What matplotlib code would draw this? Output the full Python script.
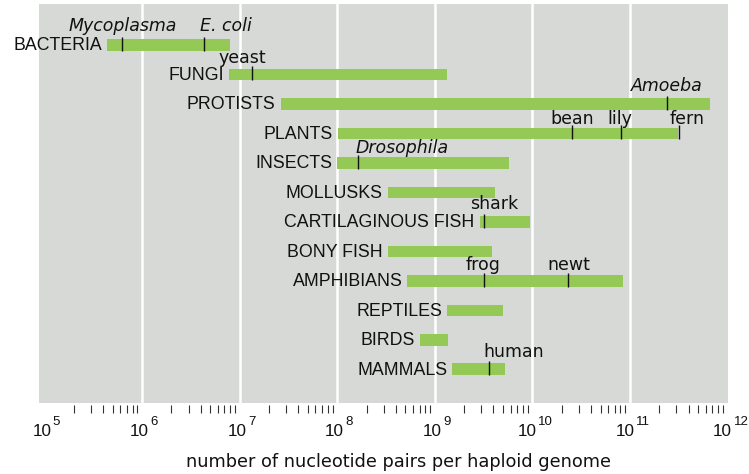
import numpy as np
import matplotlib
matplotlib.use('Agg')
import matplotlib.pyplot as plt

plt.rcParams['font.family'] = ['Liberation Sans', 'DejaVu Sans']

# genome size ranges, log10(nucleotide pairs)
groups = ['BACTERIA', 'FUNGI', 'PROTISTS', 'PLANTS', 'INSECTS', 'MOLLUSKS',
          'CARTILAGINOUS FISH', 'BONY FISH', 'AMPHIBIANS', 'REPTILES', 'BIRDS', 'MAMMALS']
low = [5.64, 6.89, 7.42, 8.01, 8.00, 8.52, 9.46, 8.52, 8.72, 9.13, 8.85, 9.18]
high = [6.90, 9.13, 11.82, 11.49, 9.76, 9.62, 9.98, 9.59, 10.93, 9.70, 9.135, 9.72]

# marked organisms
species = ['Mycoplasma', 'E. coli', 'yeast', 'Amoeba', 'bean', 'lily', 'fern',
           'Drosophila', 'shark', 'frog', 'newt', 'human']
species_row = [0, 0, 1, 2, 3, 3, 3, 4, 6, 8, 8, 11]
species_size = [5.80, 6.64, 7.13, 11.38, 10.41, 10.91, 11.50, 8.21, 9.51, 9.50, 10.37, 9.56]
italic = ['Mycoplasma', 'E. coli', 'Amoeba', 'Drosophila']

decades = list(range(5, 13))

# label offsets in pixels (dx from tick, dy baseline above bar top)
label_dx = [0, 22, -10, 0, 0, -1, 8, 44, 10, 0, 0, 24]
label_dy = [8, 8, 6, 7, 4, 4, 4, 4, 7, 5, 5, 6]

green = '#93c954'
gray = '#d6d9d6'
ink = '#111111'
bar_h = 0.4
fs_caps = 12.8
fs_low = 12.5

fig = plt.figure(figsize=(7.49, 4.74), dpi=100)
ax = fig.add_axes([39 / 749, 1 - 403 / 474, (727.5 - 39) / 749, 399 / 474])
ax.set_facecolor(gray)
ax.set_xscale('log')

y = np.arange(len(groups))
lo = 10.0 ** np.array(low)
hi = 10.0 ** np.array(high)
ax.barh(y, hi - lo, left=lo, height=bar_h, color=green, zorder=3)

for i, g in enumerate(groups):
    ax.annotate(g, xy=(lo[i], y[i]), xytext=(-5, -1), textcoords='offset pixels',
                ha='right', va='center', fontsize=fs_caps, family='Liberation Sans',
                color=ink)

for k, name in enumerate(species):
    r = species_row[k]
    xs = 10.0 ** species_size[k]
    ax.vlines(xs, r - bar_h / 2 - 0.08, r + bar_h / 2, color=ink, lw=1.0, zorder=4)
    ax.annotate(name, xy=(xs, r - bar_h / 2), xytext=(label_dx[k], label_dy[k]),
                textcoords='offset pixels', ha='center', va='baseline',
                fontsize=fs_low, family='DejaVu Sans',
                style='italic' if name in italic else 'normal', color=ink)

for k in decades[1:-1]:
    ax.axvline(10.0 ** k, color='white', lw=1.8, zorder=1)

ax.set_xlim(10 ** 4.945, 10 ** 12)
ax.set_ylim(12.14, -1.39)
ax.set_yticks([])
ax.set_xticks([10.0 ** k for k in decades])
ax.set_xticklabels([])
ax.set_xticks([m * 10.0 ** k for k in decades[:-1] for m in range(2, 10)], minor=True)
ax.xaxis.set_minor_formatter(matplotlib.ticker.NullFormatter())
ax.tick_params(axis='x', which='major', length=0)
ax.tick_params(axis='x', which='minor', length=6, width=0.8, color='#333333')
for s in ax.spines.values():
    s.set_visible(False)
ax.spines['bottom'].set_position(('outward', 1.5))

# decade labels: "10" with a large superscript exponent
trans = ax.get_xaxis_transform()
for k in decades:
    right = 9.5 - 2.5 * len(str(k))
    ax.annotate('10', xy=(10.0 ** k, 0), xycoords=trans, xytext=(right, -33),
                textcoords='offset pixels', ha='right', va='baseline', fontsize=12.3,
                family='Liberation Sans', color=ink, annotation_clip=False)
    ax.annotate(str(k), xy=(10.0 ** k, 0), xycoords=trans, xytext=(right + 1.5, -22),
                textcoords='offset pixels', ha='left', va='baseline', fontsize=9.5,
                family='Liberation Sans', color=ink, annotation_clip=False)

fig.text(398 / 749, 1 - 467 / 474, 'number of nucleotide pairs per haploid genome',
         ha='center', va='baseline', fontsize=12.8, family='DejaVu Sans', color=ink)

fig.savefig('out.png', dpi=100)
